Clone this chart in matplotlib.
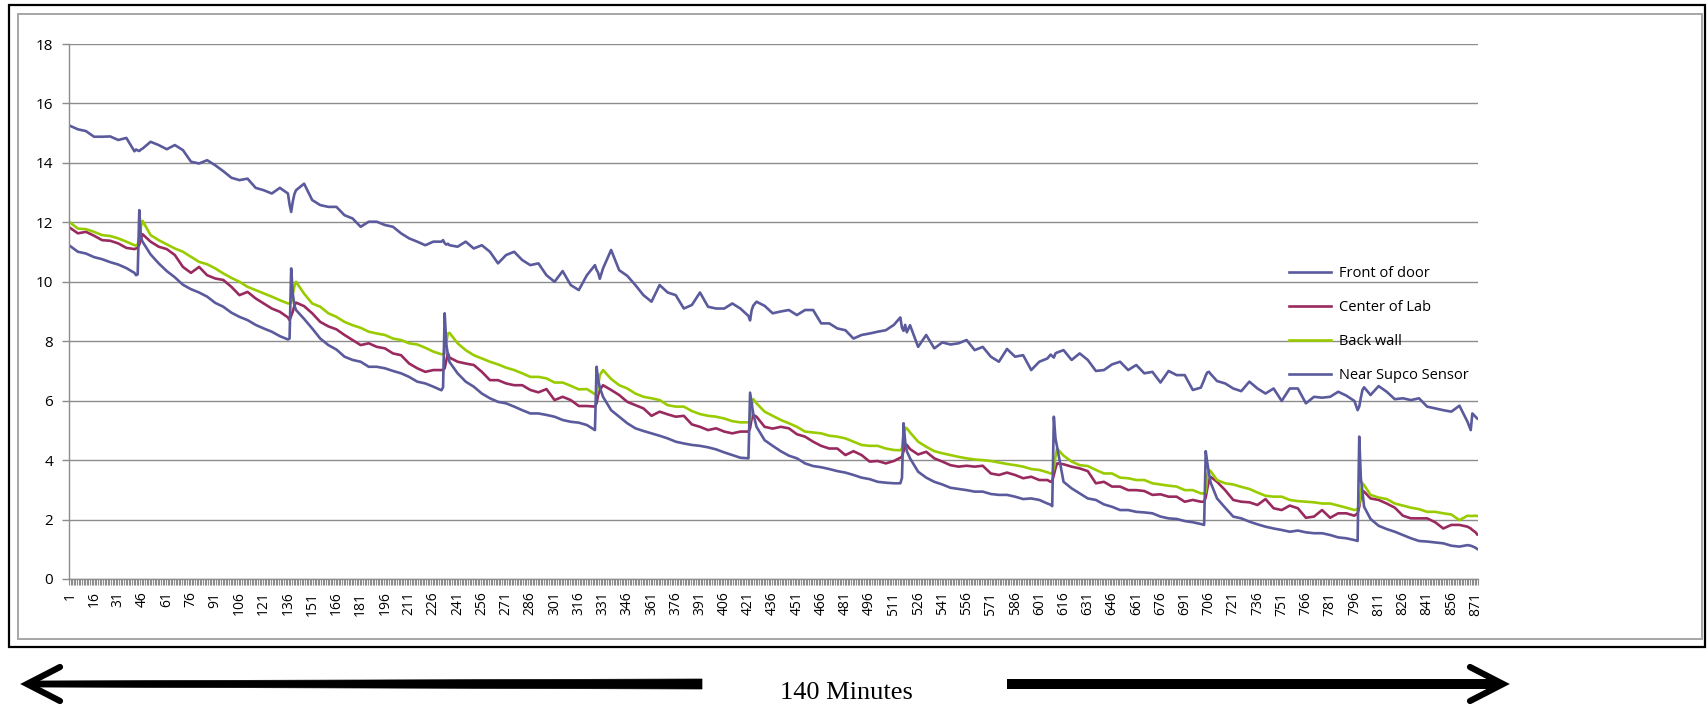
import numpy as np
import matplotlib
matplotlib.use("Agg")
import matplotlib.pyplot as plt
from matplotlib.lines import Line2D
from matplotlib.patches import Rectangle, Polygon

# sample number (one reading per ~10 s), readings in deg C
minute = [
    1, 6, 11, 16, 21, 26, 31, 36, 41, 42, 43, 44, 45, 46, 51, 56, 61, 66, 71,
    76, 81, 86, 91, 96, 101, 106, 111, 116, 121, 126, 131, 136, 137, 138, 139,
    140, 141, 146,
    151, 156, 161, 166, 171, 176, 181, 186, 191, 196, 201, 206, 211, 216, 221,
    226, 231, 232, 233, 234, 235, 236, 241, 246, 251, 256, 261, 266, 271, 276,
    281, 286, 291,
    296, 301, 306, 311, 316, 321, 326, 327, 328, 329, 331, 336, 341, 346, 351,
    356, 361, 366, 371, 376, 381, 386, 391, 396, 401, 406, 411, 416, 421, 422,
    423, 424, 426, 431, 436,
    441, 446, 451, 456, 461, 466, 471, 476, 481, 486, 491, 496, 501, 506, 511,
    515, 516, 517, 518, 519, 521, 526, 531, 536, 541, 546, 551, 556, 561, 566,
    571, 576, 581,
    586, 591, 596, 601, 606, 608, 609, 610, 611, 612, 616, 621, 626, 631, 636,
    641, 646, 651, 656, 661, 666, 671, 676, 681, 686, 691, 696, 701, 703, 704,
    705, 706, 707, 711, 716, 721, 726,
    731, 736, 741, 746, 751, 756, 761, 766, 771, 776, 781, 786, 791, 796, 798,
    799, 800, 801, 802, 806, 811, 816, 821, 826, 831, 836, 841, 846, 851, 856,
    861, 866, 868, 869, 871, 872,
]

front_door = [
    15.25, 15.13, 15.07, 14.88, 14.88, 14.89, 14.77, 14.84, 14.39, 14.45, 14.42,
    14.40, 14.45, 14.48, 14.71, 14.60, 14.46, 14.60, 14.43, 14.04, 13.98, 14.09,
    13.92, 13.72, 13.50, 13.42, 13.47, 13.16, 13.08, 12.97, 13.16, 12.97, 12.60,
    12.35, 12.70, 12.95, 13.08, 13.30,
    12.75, 12.58, 12.52, 12.52, 12.24, 12.13, 11.85, 12.02, 12.02, 11.91, 11.85,
    11.63, 11.46, 11.35, 11.23, 11.35, 11.35, 11.40, 11.30, 11.25, 11.28, 11.23,
    11.18, 11.35, 11.12, 11.23, 11.01, 10.62, 10.90, 11.01, 10.73, 10.56, 10.62,
    10.22, 10.00, 10.36, 9.89, 9.72, 10.22, 10.56, 10.40, 10.30, 10.10, 10.45,
    11.07, 10.39, 10.20, 9.89, 9.55, 9.33, 9.89, 9.64, 9.55, 9.10, 9.22, 9.64,
    9.16, 9.10, 9.10, 9.27, 9.10, 8.85, 8.70, 9.05, 9.20, 9.33, 9.19, 8.94,
    9.00, 9.05, 8.88, 9.05, 9.05, 8.60, 8.60, 8.43, 8.37, 8.09, 8.21, 8.26,
    8.32, 8.37, 8.55, 8.80, 8.45, 8.35, 8.55, 8.30, 8.54, 7.81, 8.21, 7.76,
    7.96, 7.89, 7.93, 8.04, 7.70, 7.81, 7.48, 7.31, 7.74,
    7.48, 7.53, 7.03, 7.31, 7.42, 7.55, 7.50, 7.45, 7.59, 7.62, 7.70, 7.37,
    7.59, 7.37, 7.00, 7.03, 7.22, 7.31, 7.03, 7.20, 6.92, 6.97, 6.61, 7.00,
    6.86, 6.86, 6.36, 6.44, 6.70, 6.85, 6.95, 6.97, 6.90, 6.66, 6.58, 6.41,
    6.32,
    6.64, 6.41, 6.24, 6.41, 5.99, 6.41, 6.41, 5.91, 6.13, 6.10, 6.13, 6.30,
    6.17, 5.99, 5.68, 5.80, 6.10, 6.36, 6.45, 6.19, 6.49, 6.30, 6.05, 6.08,
    6.02, 6.08, 5.80, 5.74, 5.68, 5.63, 5.83, 5.29, 5.01, 5.57, 5.46, 5.40,
]

center_lab = [
    11.82, 11.63, 11.68, 11.55, 11.40, 11.38, 11.29, 11.14, 11.10, 11.12, 11.15,
    11.25, 11.45, 11.60, 11.35, 11.18, 11.10, 10.90, 10.50, 10.30, 10.50, 10.22,
    10.11, 10.06, 9.83, 9.55, 9.66, 9.44, 9.27, 9.10, 8.99, 8.80, 8.71, 8.85,
    9.00, 9.20, 9.30, 9.18,
    8.94, 8.65, 8.50, 8.40, 8.21, 8.04, 7.87, 7.93, 7.81, 7.76, 7.59, 7.53,
    7.25, 7.09, 6.97, 7.03, 7.03, 7.03, 7.09, 7.35, 7.59, 7.45, 7.31, 7.25,
    7.20, 6.97, 6.69, 6.69, 6.58, 6.52, 6.52, 6.36, 6.28,
    6.39, 6.02, 6.13, 6.02, 5.82, 5.82, 5.80, 5.91, 6.19, 6.36, 6.52, 6.36,
    6.19, 5.96, 5.85, 5.74, 5.49, 5.63, 5.54, 5.46, 5.49, 5.20, 5.12, 5.01,
    5.07, 4.96, 4.90, 4.96, 4.96, 5.07, 5.40, 5.52, 5.46, 5.12, 5.06,
    5.12, 5.07, 4.87, 4.79, 4.62, 4.48, 4.39, 4.39, 4.17, 4.30, 4.17, 3.95,
    3.97, 3.89, 3.97, 4.08, 4.12, 4.30, 4.53, 4.51, 4.37, 4.19, 4.28, 4.06,
    3.95, 3.83, 3.78, 3.81, 3.78, 3.81, 3.55, 3.50, 3.58,
    3.50, 3.39, 3.44, 3.33, 3.33, 3.27, 3.30, 3.50, 3.72, 3.89, 3.86, 3.78,
    3.72, 3.63, 3.22, 3.27, 3.11, 3.11, 2.99, 2.99, 2.96, 2.83, 2.85, 2.77,
    2.77, 2.60, 2.66, 2.60, 2.60, 2.75, 3.05, 3.30, 3.44, 3.27, 2.99, 2.66,
    2.60,
    2.58, 2.49, 2.69, 2.38, 2.32, 2.47, 2.38, 2.06, 2.10, 2.32, 2.06, 2.21,
    2.21, 2.13, 2.21, 2.43, 2.77, 2.96, 2.94, 2.71, 2.66, 2.54, 2.40, 2.13,
    2.04, 2.04, 2.04, 1.91, 1.70, 1.82, 1.82, 1.76, 1.70, 1.65, 1.57, 1.50,
]

back_wall = [
    12.00, 11.79, 11.77, 11.68, 11.57, 11.54, 11.46, 11.35, 11.23, 11.22, 11.25,
    11.50, 11.85, 12.05, 11.57, 11.40, 11.26, 11.12, 11.01, 10.84, 10.67, 10.59,
    10.45, 10.28, 10.13, 10.00, 9.83, 9.72, 9.61, 9.50, 9.38, 9.27, 9.27, 9.30,
    9.60, 9.85, 10.00, 9.60,
    9.27, 9.16, 8.94, 8.82, 8.65, 8.54, 8.45, 8.32, 8.26, 8.21, 8.09, 8.04,
    7.93, 7.89, 7.78, 7.65, 7.56, 7.57, 7.59, 7.95, 8.26, 8.28, 7.93, 7.70,
    7.53, 7.42, 7.31, 7.22, 7.11, 7.03, 6.92, 6.80, 6.80,
    6.75, 6.61, 6.61, 6.50, 6.38, 6.39, 6.22, 6.24, 6.52, 6.86, 7.03, 6.73,
    6.52, 6.41, 6.24, 6.13, 6.08, 6.02, 5.85, 5.80, 5.80, 5.65, 5.55, 5.49,
    5.46, 5.40, 5.31, 5.27, 5.27, 5.35, 5.85, 6.05, 5.91, 5.63, 5.49,
    5.35, 5.24, 5.12, 4.96, 4.93, 4.90, 4.82, 4.79, 4.73, 4.62, 4.51, 4.48,
    4.48, 4.39, 4.34, 4.33, 4.39, 4.84, 5.09, 5.07, 4.93, 4.62, 4.45, 4.30,
    4.23, 4.17, 4.11, 4.06, 4.02, 4.00, 3.97, 3.92, 3.87,
    3.83, 3.78, 3.70, 3.67, 3.59, 3.55, 3.55, 3.72, 4.11, 4.39, 4.15, 3.95,
    3.83, 3.80, 3.67, 3.55, 3.55, 3.41, 3.39, 3.33, 3.33, 3.22, 3.18, 3.14,
    3.11, 2.99, 2.99, 2.88, 2.88, 2.91, 3.50, 3.67, 3.63, 3.33, 3.22, 3.18,
    3.10,
    3.03, 2.91, 2.80, 2.77, 2.77, 2.66, 2.62, 2.60, 2.58, 2.54, 2.54, 2.47,
    2.40, 2.32, 2.35, 2.54, 2.94, 3.22, 3.16, 2.83, 2.74, 2.69, 2.54, 2.47,
    2.40, 2.35, 2.26, 2.26, 2.21, 2.17, 1.98, 2.13, 2.12, 2.12, 2.13, 2.12,
]

near_supco = [
    11.21, 11.01, 10.95, 10.83, 10.76, 10.66, 10.58, 10.46, 10.30, 10.22, 10.25,
    12.41, 11.50, 11.35, 10.92, 10.62, 10.36, 10.15, 9.90, 9.75, 9.64, 9.50,
    9.29, 9.16, 8.96, 8.82, 8.71, 8.55, 8.43, 8.32, 8.17, 8.06, 8.09, 10.45,
    9.60, 9.20, 9.05, 8.75,
    8.43, 8.09, 7.87, 7.72, 7.48, 7.37, 7.31, 7.14, 7.14, 7.09, 7.00, 6.92,
    6.80, 6.64, 6.58, 6.47, 6.35, 6.45, 8.94, 7.90, 7.55, 7.30, 6.92, 6.64,
    6.47, 6.24, 6.08, 5.96, 5.91, 5.80, 5.68, 5.57, 5.57,
    5.52, 5.46, 5.35, 5.29, 5.26, 5.18, 5.01, 7.14, 6.70, 6.45, 6.13, 5.68,
    5.46, 5.24, 5.07, 4.98, 4.90, 4.82, 4.73, 4.62, 4.56, 4.51, 4.48, 4.43,
    4.36, 4.26, 4.17, 4.08, 4.06, 6.27, 5.90, 5.55, 5.12, 4.67, 4.48,
    4.30, 4.15, 4.06, 3.89, 3.80, 3.76, 3.70, 3.63, 3.58, 3.50, 3.41, 3.36,
    3.27, 3.24, 3.22, 3.22, 3.40, 5.24, 4.62, 4.30, 4.06, 3.61, 3.41, 3.27,
    3.18, 3.07, 3.03, 2.99, 2.94, 2.94, 2.86, 2.83, 2.83,
    2.77, 2.69, 2.71, 2.66, 2.54, 2.50, 2.45, 5.46, 4.73, 4.45, 3.27, 3.05,
    2.88, 2.71, 2.66, 2.51, 2.43, 2.32, 2.32, 2.26, 2.24, 2.21, 2.10, 2.04,
    2.02, 1.95, 1.91, 1.85, 1.82, 4.30, 3.90, 3.55, 3.25, 2.71, 2.40, 2.10,
    2.04,
    1.93, 1.84, 1.76, 1.70, 1.65, 1.59, 1.63, 1.57, 1.54, 1.54, 1.48, 1.40,
    1.37, 1.31, 1.28, 4.79, 3.39, 2.94, 2.43, 2.02, 1.79, 1.68, 1.59, 1.48,
    1.37, 1.28, 1.26, 1.23, 1.20, 1.12, 1.09, 1.14, 1.12, 1.10, 1.05, 1.01,
]

labels = ["Front of door", "Center of Lab", "Back wall", "Near Supco Sensor"]
colors = ["#5a5a9c", "#992a5f", "#99cc00", "#5a5a9c"]
n_samples = 872

W, H = 1707, 706
plt.rcParams["font.family"] = ["Open Sans", "DejaVu Sans"]

fig = plt.figure(figsize=(W / 100, H / 100), dpi=100)


def px(x, y):
    return x / W, 1 - y / H


# frames around the chart
fig.add_artist(Rectangle(px(9, 647), (1705 - 9) / W, (647 - 5) / H,
                         transform=fig.transFigure, fill=False,
                         ec="black", lw=1.6))
fig.add_artist(Rectangle(px(17.5, 639), (1702 - 17.5) / W, (639 - 14) / H,
                         transform=fig.transFigure, fill=False,
                         ec="#a6a6a6", lw=1.4))

ax = fig.add_axes([69 / W, 1 - 579 / H, 1409 / W, 535 / H])

for name, vals, c in zip(labels, [front_door, center_lab, back_wall, near_supco], colors):
    ax.plot(minute, vals, color=c, lw=1.9, label=name, solid_joinstyle="round")

grid_c = "#8c8c8c"
ax.set_xlim(0.5, n_samples + 0.5)
ax.set_ylim(0, 18)
ax.set_yticks(range(0, 19, 2))
ax.yaxis.grid(True, color=grid_c, lw=1.0)
ax.set_axisbelow(True)
for s in ["top", "right"]:
    ax.spines[s].set_visible(False)
for s in ["left", "bottom"]:
    ax.spines[s].set_color(grid_c)
    ax.spines[s].set_linewidth(1.0)

xt = list(range(1, n_samples + 1, 15))
ax.set_xticks(xt)
ax.set_xticklabels([str(v) for v in xt], rotation=90, fontsize=10)
ax.set_xticks(np.arange(0.5, n_samples + 1, 1.0), minor=True)
ax.tick_params(axis="x", which="major", length=0, pad=9)
ax.tick_params(axis="x", which="minor", length=4, width=0.8, color=grid_c)
ax.tick_params(axis="y", length=5, width=1.0, color=grid_c, pad=6.5, labelsize=11)

ax.legend(loc="upper left", bbox_to_anchor=px(1289, 266), bbox_transform=fig.transFigure,
          frameon=False, fontsize=10.5, handlelength=2.9, handletextpad=0.55,
          labelspacing=1.3, borderpad=0, borderaxespad=0)

# time span arrows under the chart
yc = 684
fig.add_artist(Polygon([px(30, yc - 3), px(702, yc - 5), px(702, yc + 5), px(30, yc + 3)],
                       closed=True, transform=fig.transFigure, fc="black", ec="black", lw=0.5))
fig.add_artist(Line2D([px(60, 0)[0], px(27, 0)[0], px(60, 0)[0]],
                      [px(0, yc - 17)[1], px(0, yc)[1], px(0, yc + 17)[1]],
                      transform=fig.transFigure, color="black", lw=4.5,
                      solid_joinstyle="miter", solid_capstyle="round"))
fig.add_artist(Line2D([px(1007, 0)[0], px(1498, 0)[0]], [px(0, yc)[1]] * 2,
                      transform=fig.transFigure, color="black", lw=7.2,
                      solid_capstyle="butt"))
fig.add_artist(Line2D([px(1470, 0)[0], px(1503, 0)[0], px(1470, 0)[0]],
                      [px(0, yc - 17)[1], px(0, yc)[1], px(0, yc + 17)[1]],
                      transform=fig.transFigure, color="black", lw=4.5,
                      solid_joinstyle="miter", solid_capstyle="round"))
fig.text(*px(846, 693), "140 Minutes", ha="center", va="center",
         family="Liberation Serif", fontsize=19)

fig.savefig("out.png", dpi=100)
